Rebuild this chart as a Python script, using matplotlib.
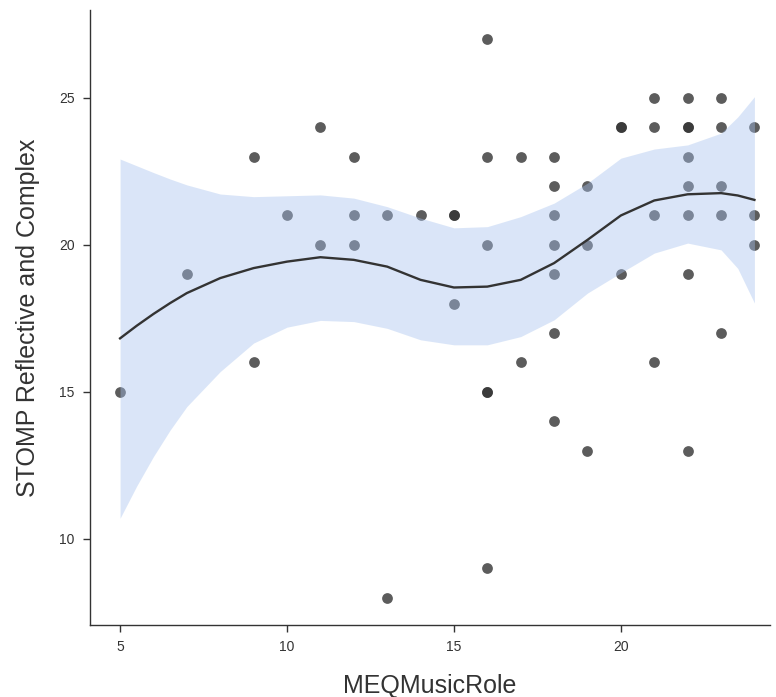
import matplotlib
matplotlib.use("Agg")
import matplotlib.pyplot as plt

# Scatter data (MEQMusicRole, STOMP Reflective and Complex)
meq = [5, 7, 9, 9, 10, 11, 11, 12, 12, 12, 13, 13, 14, 15, 15, 15,
       16, 16, 16, 16, 16, 16, 17, 17, 18, 18, 18, 18, 18, 18, 18,
       19, 19, 19, 20, 20, 20, 21, 21, 21, 21, 22, 22, 22, 22, 22, 22, 22, 22,
       23, 23, 23, 23, 23, 24, 24, 24]
stomp = [15, 19, 23, 16, 21, 24, 20, 23, 21, 20, 21, 8, 21, 21, 21, 18,
         27, 23, 20, 15, 15, 9, 23, 16, 23, 22, 21, 20, 19, 17, 14,
         22, 20, 13, 24, 24, 19, 25, 24, 21, 16, 25, 24, 24, 23, 22, 21, 19, 13,
         25, 24, 22, 21, 17, 24, 21, 20]

# Smooth curve and confidence band
fit_x = [5, 5.5, 6, 6.5, 7, 8, 9, 10, 11, 12, 13, 14, 15, 16, 17, 18, 19, 20, 21, 22, 23, 23.5, 24]
fit_y = [16.82, 17.25, 17.65, 18.02, 18.36, 18.87, 19.21, 19.43, 19.58, 19.49, 19.26, 18.81, 18.55,
         18.58, 18.81, 19.38, 20.17, 21.00, 21.51, 21.72, 21.76, 21.68, 21.53]
band_hi = [22.92, 22.69, 22.46, 22.24, 22.04, 21.73, 21.64, 21.67, 21.70, 21.59, 21.30, 20.91, 20.58,
           20.62, 20.96, 21.42, 22.10, 22.95, 23.26, 23.40, 23.80, 24.35, 25.04]
band_lo = [10.70, 11.80, 12.80, 13.70, 14.50, 15.69, 16.66, 17.20, 17.43, 17.39, 17.16, 16.77, 16.60,
           16.60, 16.88, 17.45, 18.36, 19.05, 19.72, 20.06, 19.83, 19.20, 18.02]

x_ticks = [5, 10, 15, 20]
y_ticks = [10, 15, 20, 25]

plt.rcParams['font.family'] = ['Liberation Sans', 'DejaVu Sans']

fig = plt.figure(figsize=(7.76, 6.97), dpi=100)
ax = fig.add_axes([0.116, 0.1033, 0.876, 0.8824])

ax.scatter(meq, stomp, s=60, color='#333333', alpha=0.8, linewidths=0, zorder=2)
ax.fill_between(fit_x, band_lo, band_hi, color='#A7C2EE', alpha=0.41, linewidth=0, zorder=3)
ax.plot(fit_x, fit_y, color='#333333', linewidth=1.7, zorder=4)

ax.set_xlim(4.10, 24.46)
ax.set_ylim(7.07, 27.99)
ax.set_xticks(x_ticks)
ax.set_yticks(y_ticks)

for side in ['top', 'right']:
    ax.spines[side].set_visible(False)
for side in ['left', 'bottom']:
    ax.spines[side].set_color('#333333')
    ax.spines[side].set_linewidth(1.0)

ax.tick_params(axis='both', direction='out', length=5, width=1, color='#333333',
               labelsize=10, labelcolor='#333333', pad=6)

ax.set_xlabel('MEQMusicRole', fontsize=18, color='#333333', labelpad=14)
ax.set_ylabel('STOMP Reflective and Complex', fontsize=18, color='#333333', labelpad=14)

fig.savefig('out.png', dpi=100)
